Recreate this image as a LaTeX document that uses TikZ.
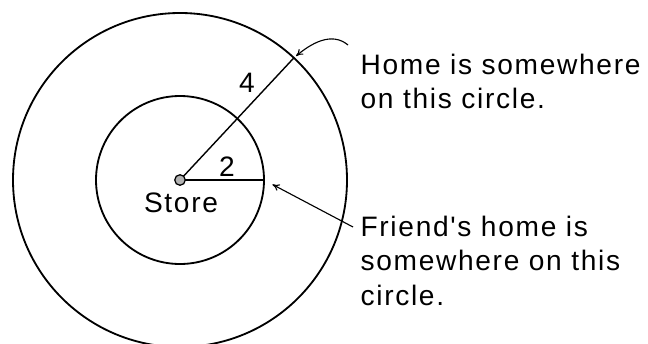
\documentclass[tikz,border=0pt]{standalone}
\usepackage{fontspec}
\usepackage{tikz}
\usetikzlibrary{positioning, calc, arrows.meta}
\newfontfamily\notefont[LetterSpace=6]{Liberation Sans}

\begin{document}
\begin{tikzpicture}[x=0.025cm, y=0.025cm, thick, >={To[length=5pt,width=5pt]},
    ring/.style={line width=1.3pt},
    radline/.style={line width=1pt},
    pointer/.style={->, line width=0.8pt},
    lbl/.style={font=\notefont\fontsize{20}{22}\selectfont, inner sep=0pt},
    note/.style={lbl, align=left, anchor=north west, font=\notefont\fontsize{20}{24.2}\selectfont}]
    \useasboundingbox (0,0) rectangle (648,343);
    \clip (0,0) rectangle (648,343);

    % --- Store and the two circles ---
    \coordinate (centre) at (180,163);
    \draw[ring] (centre) circle[radius=167];
    \draw[ring] (centre) circle[radius=84];
    \path (centre) ++(47:167) coordinate (home);
    \path (centre) ++(0:84) coordinate (friend);

    % --- Radii ---
    \draw[radline] (centre) -- (home);
    \draw[radline] (centre) -- (friend);
    \node[circle, draw, fill=gray!60, line width=0.9pt, minimum size=7.5pt, inner sep=0pt] (store) at (centre) {};
    \node[lbl] (four) at (247,260) {4};
    \node[lbl] (two) at (227,176) {2};
    \node[lbl] (storelbl) at (181,140) {Store};

    % --- Notes and pointers ---
    \node[note] (homenote) at (360,289) {Home is somewhere\\on this circle.};
    \node[note] (friendnote) at (360,127) {Friend's home is\\somewhere on this\\circle.};
    \coordinate (hometail) at (348,298);
    \coordinate (friendtail) at (353,116);
    \draw[pointer, shorten >=2pt] (hometail) to[out=140, in=40] (home);
    \draw[pointer, shorten >=6.8pt] (friendtail) -- (friend);

\end{tikzpicture}
\end{document}
